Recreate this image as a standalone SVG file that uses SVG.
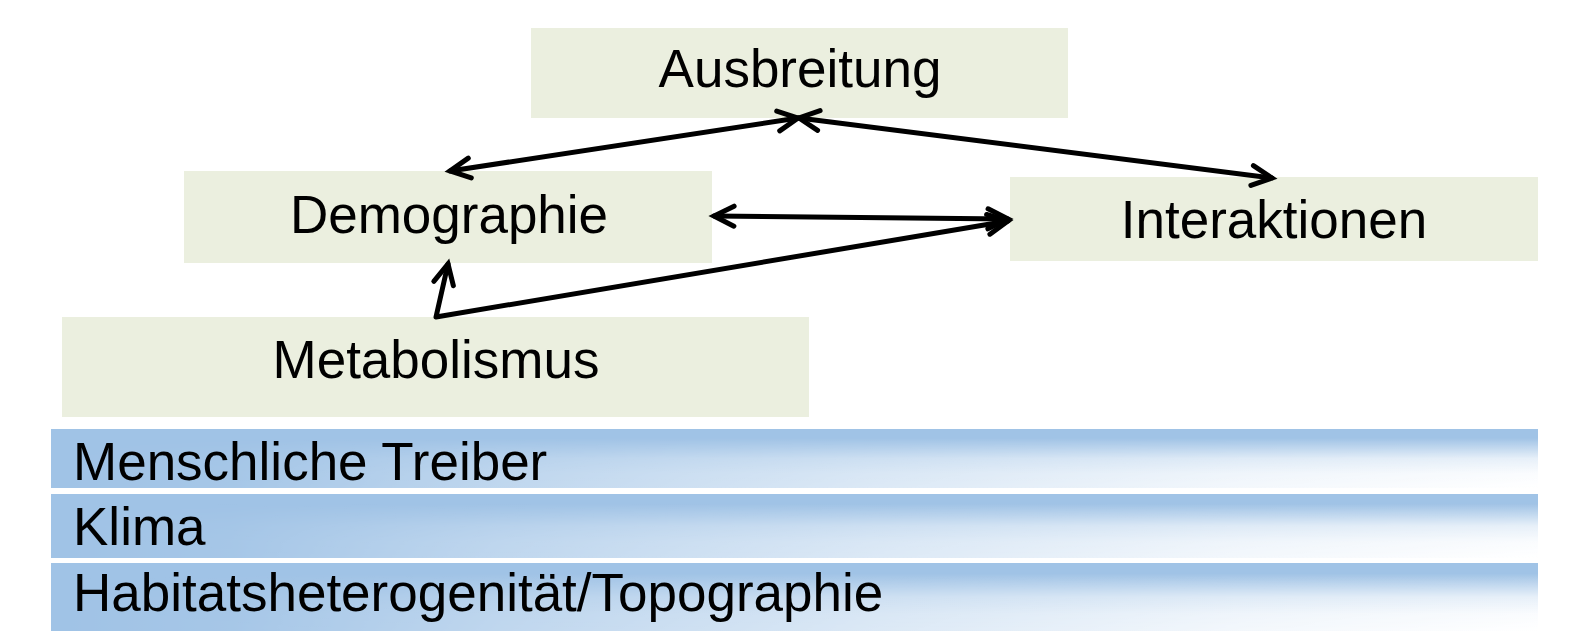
<svg xmlns="http://www.w3.org/2000/svg" width="1579" height="631" viewBox="0 0 1579 631">
<style>
.node{fill:#EBEFDF}
.lbl{font-family:"Liberation Sans",Arial,sans-serif;font-size:53px;fill:#000}
.c{text-anchor:middle}
.conn{stroke:#000;stroke-width:5;fill:none;stroke-linecap:round;stroke-linejoin:round}
.band{fill:#A0C3E6}
.sheen{fill:url(#wv)}
</style>
<defs>
<marker id="ah" markerUnits="userSpaceOnUse" markerWidth="40" markerHeight="40" viewBox="-30 -20 40 40" refX="0" refY="0" orient="auto-start-reverse">
<path d="M-20,-10 L0,0 L-20,10" fill="none" stroke="#000" stroke-width="5" stroke-linecap="round" stroke-linejoin="miter"/>
</marker>
<linearGradient id="hg" gradientUnits="userSpaceOnUse" x1="51" y1="0" x2="1538" y2="0">
<stop offset="0" stop-color="#000"/>
<stop offset="0.12" stop-color="#111"/>
<stop offset="0.3" stop-color="#555"/>
<stop offset="0.55" stop-color="#A0A0A0"/>
<stop offset="0.8" stop-color="#E0E0E0"/>
<stop offset="1" stop-color="#FFF"/>
</linearGradient>
<mask id="mh" maskUnits="userSpaceOnUse" x="0" y="0" width="1579" height="631">
<rect x="51" y="0" width="1487" height="631" fill="url(#hg)"/>
</mask>
<linearGradient id="wv" x1="0" y1="0" x2="0" y2="1">
<stop offset="0" stop-color="#FFF" stop-opacity="0"/>
<stop offset="0.15" stop-color="#FFF" stop-opacity="0"/>
<stop offset="0.5" stop-color="#FFF" stop-opacity="0.75"/>
<stop offset="0.75" stop-color="#FFF" stop-opacity="0.95"/>
<stop offset="1" stop-color="#FFF" stop-opacity="1"/>
</linearGradient>
</defs>
<g id="node-ausbreitung"><rect class="node" x="531" y="28" width="537" height="90"/><text class="lbl c" x="800" y="87">Ausbreitung</text></g>
<g id="node-demographie"><rect class="node" x="184" y="171" width="528" height="92"/><text class="lbl c" x="449" y="233">Demographie</text></g>
<g id="node-interaktionen"><rect class="node" x="1010" y="177" width="528" height="84"/><text class="lbl c" x="1274" y="238">Interaktionen</text></g>
<g id="node-metabolismus"><rect class="node" x="62" y="317" width="747" height="100"/><text class="lbl c" x="436" y="378">Metabolismus</text></g>
<g id="band-menschliche-treiber"><rect class="band" x="51" y="429" width="1487" height="59"/><rect class="sheen" x="51" y="429" width="1487" height="59" mask="url(#mh)"/><text class="lbl" x="73" y="480">Menschliche Treiber</text></g>
<g id="band-klima"><rect class="band" x="51" y="494" width="1487" height="64"/><rect class="sheen" x="51" y="494" width="1487" height="64" mask="url(#mh)"/><text class="lbl" x="73" y="545">Klima</text></g>
<g id="band-habitat"><rect class="band" x="51" y="563" width="1487" height="68"/><rect class="sheen" x="51" y="563" width="1487" height="68" mask="url(#mh)"/><text class="lbl" x="73" y="611">Habitatsheterogenität/Topographie</text></g>
<g id="connectors">
<line class="conn" x1="450" y1="171" x2="798" y2="118" marker-start="url(#ah)" marker-end="url(#ah)"/>
<line class="conn" x1="799" y1="118" x2="1272" y2="178" marker-start="url(#ah)" marker-end="url(#ah)"/>
<line class="conn" x1="714" y1="216" x2="1008" y2="219" marker-start="url(#ah)" marker-end="url(#ah)"/>
<polyline class="conn" points="448,264 436,317 1008,221" marker-start="url(#ah)" marker-end="url(#ah)"/>
</g>
</svg>
